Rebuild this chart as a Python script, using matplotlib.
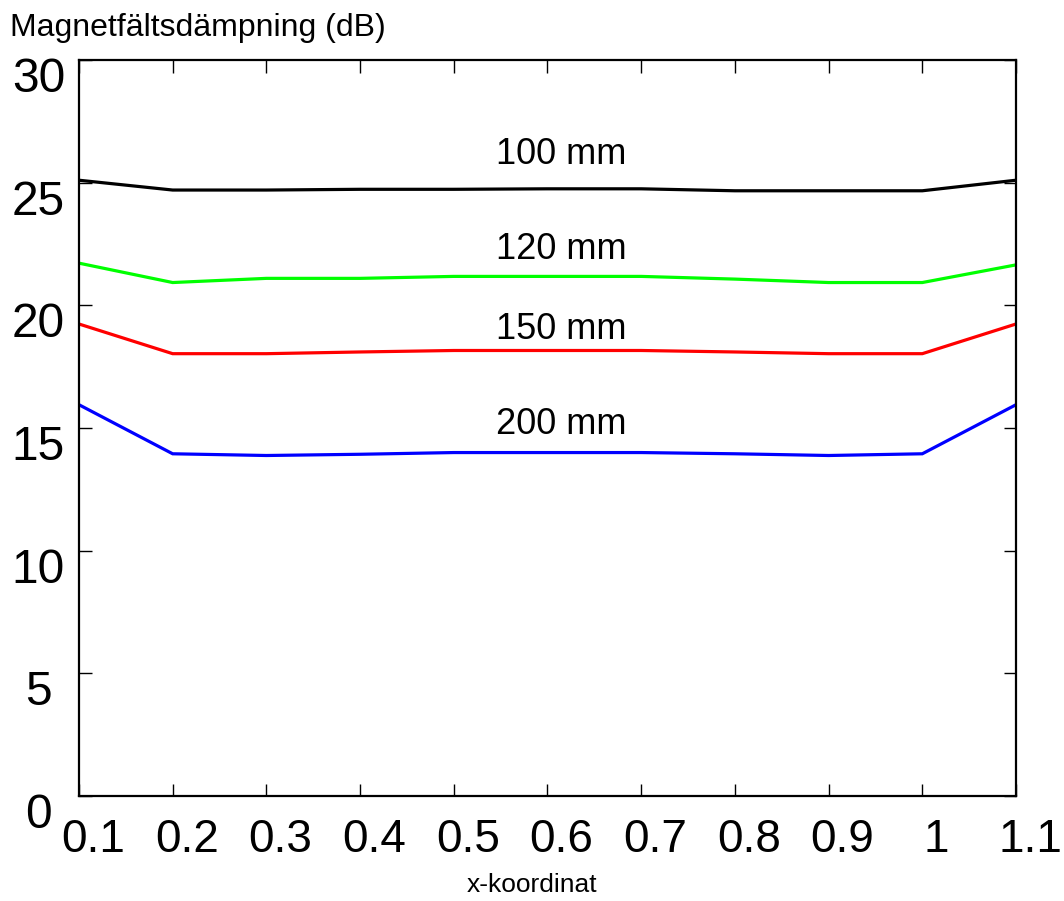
import matplotlib
matplotlib.use("Agg")
import matplotlib.pyplot as plt
import matplotlib.transforms as mtransforms

plt.rcParams['font.family'] = ['Liberation Sans', 'DejaVu Sans']

x_coord = [0.1, 0.2, 0.3, 0.4, 0.5, 0.6, 0.7, 0.8, 0.9, 1.0, 1.1]
d100 = [25.1, 24.7, 24.7, 24.73, 24.73, 24.75, 24.75, 24.67, 24.67, 24.67, 25.1]
d120 = [21.72, 20.93, 21.1, 21.1, 21.18, 21.18, 21.18, 21.07, 20.93, 20.93, 21.65]
d150 = [19.24, 18.03, 18.03, 18.1, 18.16, 18.16, 18.16, 18.1, 18.03, 18.03, 19.24]
d200 = [15.95, 13.95, 13.88, 13.93, 14.0, 14.0, 14.0, 13.95, 13.88, 13.95, 15.95]

series = [
    (d100, "#000000", "100 mm", 25.75),
    (d120, "#00ff00", "120 mm", 21.9),
    (d150, "#ff0000", "150 mm", 18.64),
    (d200, "#0000ff", "200 mm", 14.76),
]

x_ticks = [0.1, 0.2, 0.3, 0.4, 0.5, 0.6, 0.7, 0.8, 0.9, 1.0, 1.1]
x_ticklabels = ["0.1", "0.2", "0.3", "0.4", "0.5", "0.6", "0.7", "0.8", "0.9", "1", "1.1"]
y_ticks = [0, 5, 10, 15, 20, 25, 30]
y_ticklabels = ["0", "5", "10", "15", "20", "25", "30"]

fig = plt.figure(figsize=(10.64, 9.01), dpi=100)
ax = fig.add_axes([0.0742, 0.1165, 0.9549 - 0.0742, 0.9334 - 0.1165])

for vals, col, lab, ylab in series:
    ax.plot(x_coord, vals, color=col, lw=2.3, solid_joinstyle='miter')
    ax.text(0.6144, ylab, lab, ha='center', va='baseline', fontsize=26)

ax.set_xlim(0.1, 1.1)
ax.set_ylim(0, 30)
ax.set_xticks(x_ticks)
ax.set_yticks(y_ticks)
ax.tick_params(direction='in', length=9, width=1, top=True, right=True,
               labelbottom=False, labelleft=False)
for s in ax.spines.values():
    s.set_linewidth(1.6)

px = 1 / 100.0

# y tick labels, set left of the axis and a little below each tick
y_off = mtransforms.ScaledTranslation(-40.5 * px, -32 * px, fig.dpi_scale_trans)
for v, t in zip(y_ticks, y_ticklabels):
    ax.text(0, v, t, transform=ax.get_yaxis_transform() + y_off,
            ha='center', va='baseline', fontsize=34.5, clip_on=False)

# x tick labels, below the axis and a little right of each tick
x_off = mtransforms.ScaledTranslation(14 * px, -56 * px, fig.dpi_scale_trans)
for v, t in zip(x_ticks, x_ticklabels):
    ax.text(v, 0, t, transform=ax.get_xaxis_transform() + x_off,
            ha='center', va='baseline', fontsize=33, clip_on=False)

fig.text(10.5 / 1064, 1 - 36 / 901, "Magnetfältsdämpning (dB)", fontsize=23,
         ha='left', va='baseline')
fig.text(532 / 1064, 1 - 885 / 901, "x-koordinat", fontsize=19,
         ha='center', va='center')

fig.savefig("out.png", dpi=100)
